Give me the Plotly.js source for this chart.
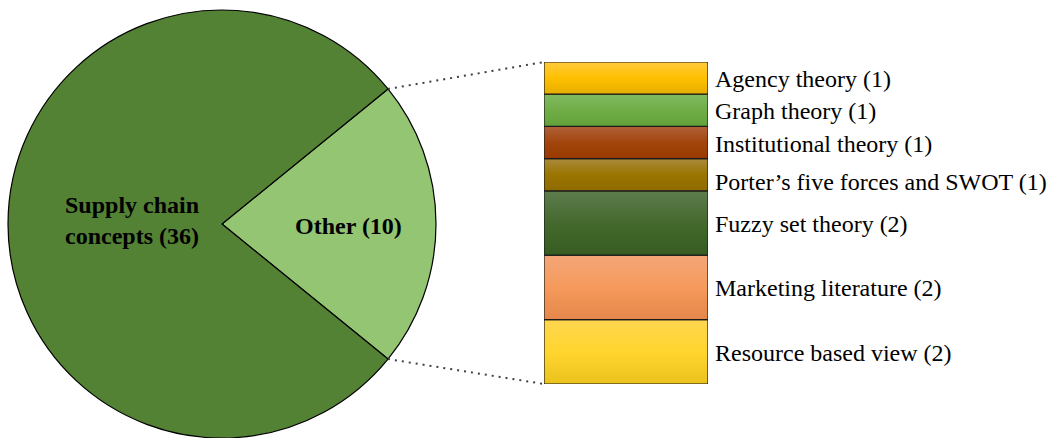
<!DOCTYPE html>
<html>
<head>
<meta charset="utf-8">
<script src="https://cdn.plot.ly/plotly-3.0.1.min.js"></script>
<style>html,body{margin:0;padding:0;background:#fff;}#chart{width:1050px;height:438px;}</style>
</head>
<body>
<div id="chart"></div>
<script>
// ---- data ----
const pieLabels = ["Other", "Supply chain concepts"];
const pieValues = [10, 36];
const pieText = ["Other (10)", "Supply chain<br>concepts (36)"];

// breakdown of "Other", listed bottom to top of the stacked bar
const otherLabels = ["Resource based view", "Marketing literature", "Fuzzy set theory",
  "Porter’s five forces and SWOT", "Institutional theory", "Graph theory", "Agency theory"];
const otherValues = [2, 2, 2, 1, 1, 1, 1];

// ---- styles ----
const pieColors = ["#93c572", "#548235"];
// gradient [bottom, middle, top]
const segGradients = [
  ["#ebc21c", "#ffd52e", "#ffd650"],
  ["#e5874a", "#f59a5c", "#f4a677"],
  ["#375c21", "#44692d", "#5e7d4e"],
  ["#8f6b00", "#9a7500", "#a98a3c"],
  ["#993b00", "#a2450c", "#b0613b"],
  ["#62a13a", "#70ad47", "#80bb60"],
  ["#e6ad00", "#ffc000", "#ffca3c"]
];
const serif = "Liberation Serif, Times New Roman, serif";
const W = 1050, H = 438;
const pieDom = {x: [8 / W, 436 / W], y: [0, 428 / H]};
const barDom = {x: [544 / W, 708 / W], y: [54 / H, 376 / H]};

const total = pieValues.reduce((a, b) => a + b, 0);
const otherFrac = pieValues[0] / total;
const halfAngleDeg = 180 * otherFrac;

const traces = [];
traces.push({
  type: "pie",
  values: pieValues,
  labels: pieLabels,
  sort: false,
  direction: "clockwise",
  rotation: 90 - halfAngleDeg,
  textinfo: "none",
  hoverinfo: "none",
  marker: {colors: pieColors, line: {color: "#000", width: 1.2}},
  domain: pieDom,
  showlegend: false
});

// stacked bar segments as gradient-filled rectangles
let cum = 0;
const segMid = [];
otherValues.forEach((v, i) => {
  const lo = cum, hi = cum + v;
  cum = hi;
  segMid.push((lo + hi) / 2);
  const g = segGradients[i];
  traces.push({
    type: "scatter",
    mode: "lines",
    x: [-0.5, 0.5, 0.5, -0.5, -0.5],
    y: [lo, lo, hi, hi, lo],
    fill: "toself",
    fillgradient: {type: "vertical", colorscale: [[0, g[0]], [0.5, g[1]], [1, g[2]]]},
    line: {color: "#1a1a1a", width: 1.2},
    hoverinfo: "none",
    showlegend: false,
    xaxis: "x", yaxis: "y"
  });
});
const otherTotal = cum;

// pie geometry in pixels (for connector lines and labels)
const pw = (pieDom.x[1] - pieDom.x[0]) * W, ph = (pieDom.y[1] - pieDom.y[0]) * H;
const r = Math.min(pw, ph) / 2;
const cxPx = (pieDom.x[0] + pieDom.x[1]) / 2 * W;
const cyPx = H - (pieDom.y[0] + pieDom.y[1]) / 2 * H;
const a = halfAngleDeg * Math.PI / 180;
const ex = cxPx + r * Math.cos(a);
const eyTop = cyPx - r * Math.sin(a), eyBot = cyPx + r * Math.sin(a);

const shapes = [
  {type: "line", xref: "paper", yref: "paper", x0: ex / W, y0: 1 - eyTop / H, x1: barDom.x[0], y1: barDom.y[1],
   line: {color: "#404040", width: 2, dash: "2px,5px"}},
  {type: "line", xref: "paper", yref: "paper", x0: ex / W, y0: 1 - eyBot / H, x1: barDom.x[0], y1: barDom.y[0],
   line: {color: "#404040", width: 2, dash: "2px,5px"}}
];

const annotations = [];
// pie labels: small slice (right) and large slice (left)
annotations.push({xref: "paper", yref: "paper", x: (cxPx + 0.59 * r) / W, y: 1 - (cyPx + 2) / H,
  text: "<b>" + pieText[0] + "</b>", showarrow: false, xanchor: "center", yanchor: "middle",
  font: {family: serif, size: 24, color: "#000"}});
annotations.push({xref: "paper", yref: "paper", x: (cxPx - 0.42 * r) / W, y: 1 - (cyPx - 4) / H,
  text: "<b>" + pieText[1] + "</b>", showarrow: false, xanchor: "center", yanchor: "middle",
  font: {family: serif, size: 24, color: "#000"}});
// bar segment labels
otherLabels.forEach((lab, i) => {
  annotations.push({xref: "paper", yref: "y", x: 713 / W, y: segMid[i],
    text: lab + " (" + otherValues[i] + ")", showarrow: false, xanchor: "left", yanchor: "middle",
    yshift: i === 3 ? -7 : -1,
    font: {family: serif, size: 24, color: "#000"}});
});

const layout = {
  width: W, height: H,
  margin: {l: 0, r: 0, t: 0, b: 0},
  paper_bgcolor: "#fff", plot_bgcolor: "rgba(0,0,0,0)",
  showlegend: false,
  xaxis: {domain: barDom.x, range: [-0.5, 0.5], visible: false, fixedrange: true},
  yaxis: {domain: barDom.y, range: [0, otherTotal], visible: false, fixedrange: true},
  shapes: shapes,
  annotations: annotations,
  hovermode: false
};

Plotly.newPlot("chart", traces, layout, {displayModeBar: false, staticPlot: true});
</script>
</body>
</html>
